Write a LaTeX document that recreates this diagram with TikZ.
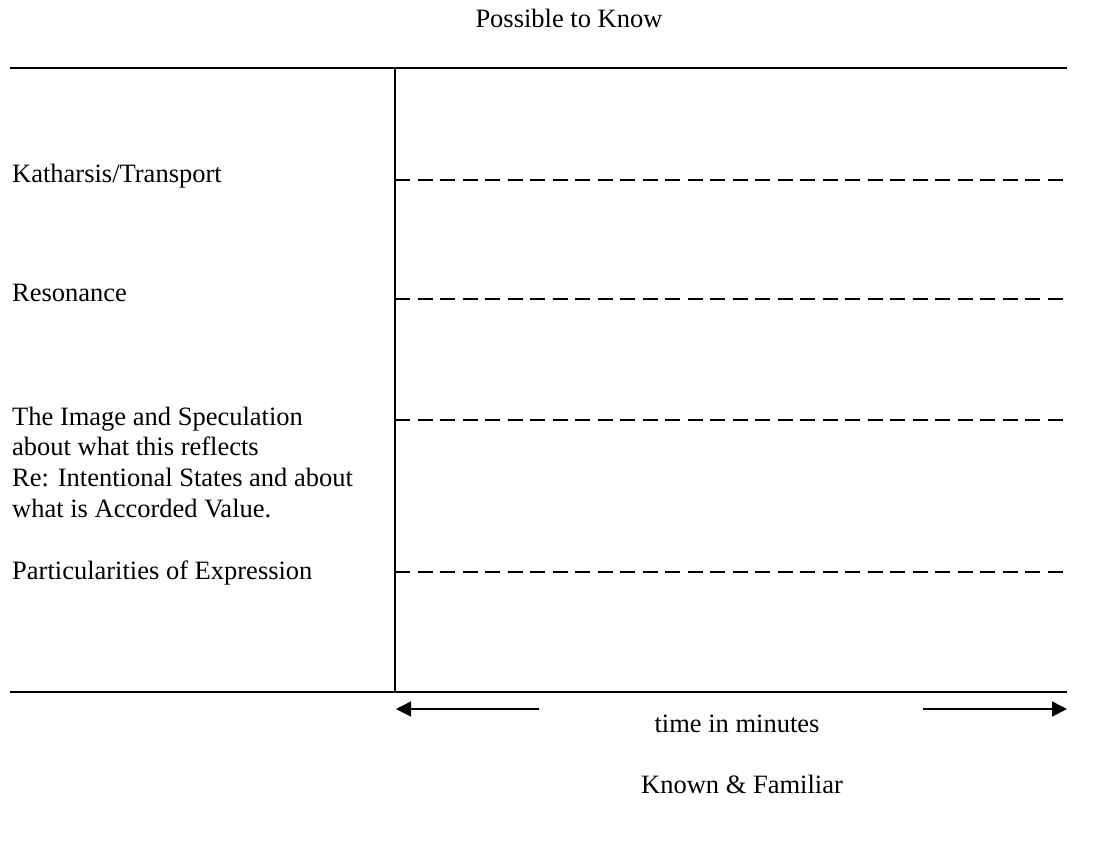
\documentclass[tikz,border=0pt]{standalone}
\usepackage{fontspec}
\setmainfont{Liberation Serif}
\usetikzlibrary{arrows.meta}
\tikzset{
  frame/.style={line width=1.5pt},
  levelline/.style={line width=1.5pt, dash pattern=on 15pt off 7.5pt},
  timearrow/.style={line width=1.5pt, -{Triangle[length=15pt,width=15pt]}},
  lbl/.style={inner sep=0pt, anchor=base west, align=left, font=\fontsize{26.5}{30.6}\selectfont},
  ctr/.style={inner sep=0pt, anchor=base, font=\fontsize{26.5}{30.6}\selectfont}
}
\begin{document}
\begin{tikzpicture}[x=1pt,y=-1pt]
\useasboundingbox (0,0) rectangle (1107,854);
% frame coordinates
\coordinate (tl) at (10,68);
\coordinate (tr) at (1067,68);
\coordinate (bl) at (10,692);
\coordinate (br) at (1067,692);
\coordinate (vt) at (395,68);
\coordinate (vb) at (395,692);
\draw[frame] (tl) -- (tr);
\draw[frame] (bl) -- (br);
\draw[frame] (vt) -- (vb);
% level lines
\foreach \n/\y in {k/180, r/299, i/420, p/572}{
  \coordinate (\n s) at (395,\y);
  \coordinate (\n e) at (1067,\y);
  \draw[levelline] (\n s) -- (\n e);
}
% labels
\node[ctr] (top) at (569,27) {Possible to Know};
\node[lbl] (kath) at (12,182) {Katharsis/Transport};
\node[lbl] (reso) at (12,301) {Resonance};
\node[lbl] (image) at (12,517) {The Image and Speculation\\about what this reflects\\Re: Intentional States and about\\what is Accorded Value.};
\node[lbl] (part) at (12,579) {Particularities of Expression};
\node[ctr] (time) at (737,732) {time in minutes};
\node[ctr] (known) at (742,793) {Known \& Familiar};
% time arrows
\coordinate (la) at (539,709);
\coordinate (lt) at (396,709);
\coordinate (ra) at (923,709);
\coordinate (rt) at (1067,709);
\draw[timearrow] (la) -- (lt);
\draw[timearrow] (ra) -- (rt);
\end{tikzpicture}
\end{document}
